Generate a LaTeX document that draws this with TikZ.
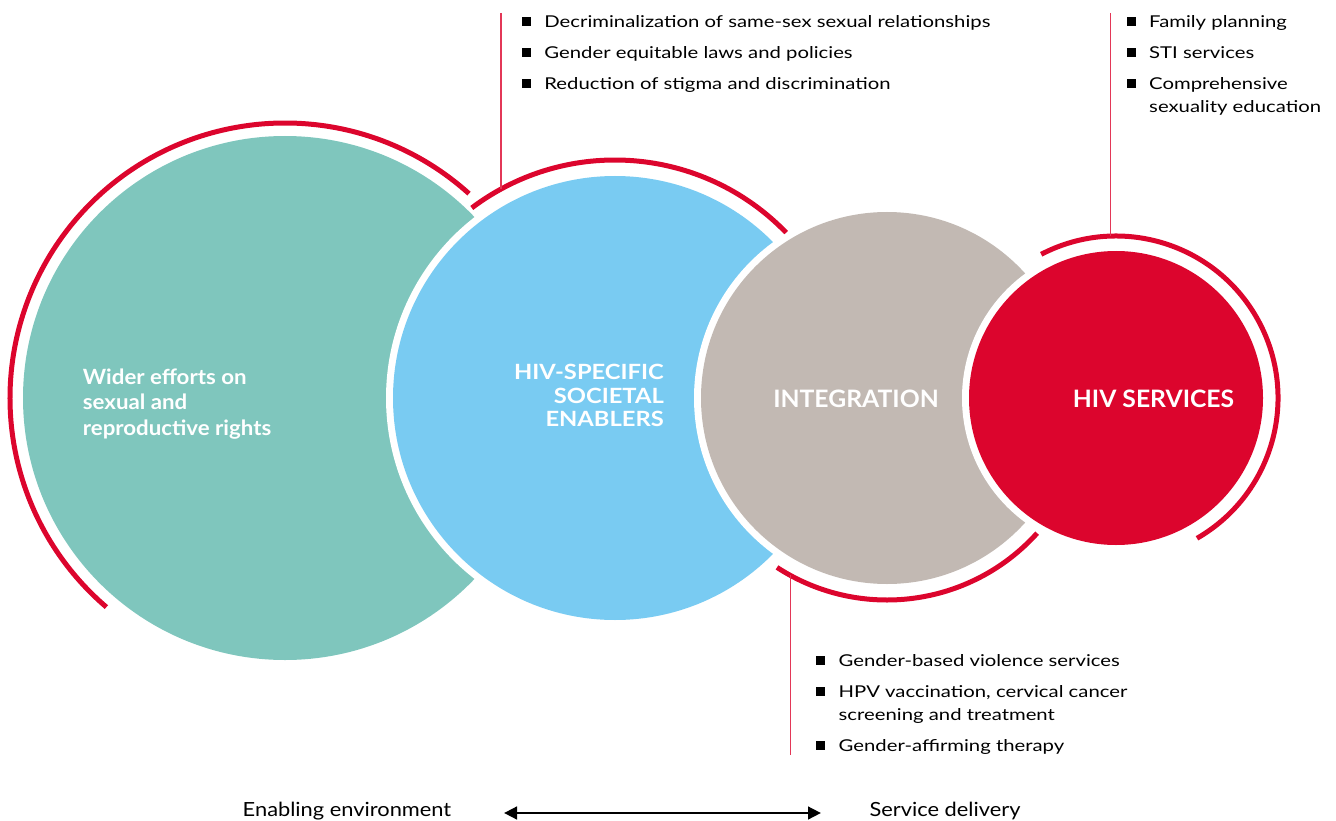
\documentclass[tikz,border=0pt]{standalone}
\usepackage{fontspec}
\setmainfont{Lato}
\newfontfamily\listf{Lato}[FakeStretch=1.245]
\newfontfamily\bluef{Lato}[FakeStretch=1.13]
\newfontfamily\bigf{Lato}[FakeStretch=1.03]
\newfontfamily\widef{Lato}[FakeStretch=1.06]
\newfontfamily\footf{Lato}[FakeStretch=1.12]
\usetikzlibrary{arrows.meta}
\definecolor{tealc}{HTML}{7FC6BD}
\definecolor{bluec}{HTML}{79CBF2}
\definecolor{grayc}{HTML}{C2B9B3}
\definecolor{redc}{HTML}{DC052D}
\newcommand\sqb{\rule[1.4pt]{9pt}{8.8pt}\hspace{13.5pt}}
\newcommand\ind{\hspace{22.5pt}}
\begin{document}
\begin{tikzpicture}[x=1pt,y=-1pt,
  redarc/.style={draw=redc,line width=5pt},
  vline/.style={draw=redc!80,line width=1.3pt},
  gap/.style={fill=white},
  lbl/.style={text=white,inner sep=0pt},
  itm/.style={anchor=base west,font=\listf\fontsize{16.3}{23}\selectfont,align=left,inner sep=0pt},
  foot/.style={anchor=base,font=\footf\fontsize{19.5}{22}\selectfont,inner sep=0pt}]
\useasboundingbox (0,0) rectangle (1336,821);
% centres
\coordinate (ct) at (285,398);
\coordinate (cb) at (615,398);
\coordinate (cg) at (887,398);
\coordinate (cr) at (1116,398);
% red arcs
\draw[redarc] (ct) ++(48:275pt) arc[start angle=48,end angle=229.5,radius=275pt];
\draw[redarc] (cb) ++(44:238pt) arc[start angle=44,end angle=127,radius=238pt];
\draw[redarc] (cg) ++(-123:202pt) arc[start angle=-123,end angle=-42,radius=202pt];
\draw[redarc] (cr) ++(-60:162pt) arc[start angle=-60,end angle=117.5,radius=162pt];
% circles
\fill[tealc] (ct) circle[radius=262pt];
\fill[gap] (cb) circle[radius=229pt];
\fill[bluec] (cb) circle[radius=222pt];
\fill[gap] (cg) circle[radius=193pt];
\fill[grayc] (cg) circle[radius=186pt];
\fill[gap] (cr) circle[radius=154pt];
\fill[redc] (cr) circle[radius=147pt];
% vertical leader lines
\coordinate (v1t) at (501,13);  \coordinate (v1b) at (501,189);
\coordinate (v2t) at (1110.5,13); \coordinate (v2b) at (1110.5,236);
\coordinate (v3t) at (790.5,575); \coordinate (v3b) at (790.5,755);
\draw[vline] (v1t) -- (v1b);
\draw[vline] (v2t) -- (v2b);
\draw[vline] (v3t) -- (v3b);
% circle labels
\node[lbl,anchor=base west,align=left,font=\widef\bfseries\fontsize{21}{25.5}\selectfont] (lt) at (82.7,435) {Wider efforts on\\sexual and\\reproductive rights};
\node[lbl,anchor=base east,align=right,font=\bluef\bfseries\fontsize{21}{23.5}\selectfont] (lb) at (664,426.7) {HIV-SPECIFIC\\SOCIETAL\\ENABLERS};
\node[lbl,anchor=base,font=\bigf\bfseries\fontsize{24}{26}\selectfont] (lg) at (856,407) {INTEGRATION};
\node[lbl,anchor=base,font=\bigf\bfseries\fontsize{24}{26}\selectfont] (lr) at (1153.5,407) {HIV SERVICES};
% top list
\node[itm] (a1) at (521.7,27.7) {\sqb Decriminalization of same-sex sexual relationships};
\node[itm] (a2) at (521.7,58.7) {\sqb Gender equitable laws and policies};
\node[itm] (a3) at (521.7,89.7) {\sqb Reduction of stigma and discrimination};
% right list
\node[itm] (b1) at (1126.5,27.7) {\sqb Family planning};
\node[itm] (b2) at (1126.5,58.7) {\sqb STI services};
\node[itm] (b3) at (1126.5,112.7) {\sqb Comprehensive\\\ind sexuality education};
% bottom list
\node[itm] (c1) at (816,666.5) {\sqb Gender-based violence services};
\node[itm] (c2) at (816,720.5) {\sqb HPV vaccination, cervical cancer\\\ind screening and treatment};
\node[itm] (c3) at (816,751.5) {\sqb Gender-affirming therapy};
% footer
\node[foot] (fe) at (347,816.7) {Enabling environment};
\node[foot] (fs) at (945,816.7) {Service delivery};
\coordinate (al) at (504,813);
\coordinate (ar) at (821,813);
\draw[line width=2.8pt,{Triangle[length=13pt,width=12.5pt]}-{Triangle[length=13pt,width=12.5pt]}] (al) -- (ar);
\end{tikzpicture}
\end{document}
